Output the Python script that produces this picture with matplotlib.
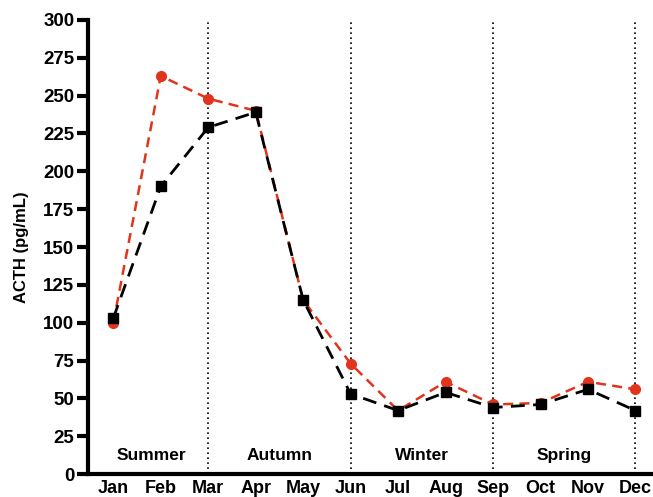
import matplotlib.pyplot as plt

months = ['Jan', 'Feb', 'Mar', 'Apr', 'May', 'Jun', 'Jul', 'Aug', 'Sep', 'Oct', 'Nov', 'Dec']
acth_red = [100, 263, 248, 240, 115, 73, 42, 61, 46, 47, 61, 56]
acth_black = [103, 190, 229, 239, 115, 53, 42, 54, 44, 46, 56, 42]
seasons = ['Summer', 'Autumn', 'Winter', 'Spring']
season_pos = [0.8, 3.5, 6.5, 9.5]
dividers = [2, 5, 8, 11]

plt.rcParams['font.family'] = ['Liberation Sans', 'DejaVu Sans']
plt.rcParams['font.weight'] = 'bold'

fig = plt.figure(figsize=(6.53, 4.97), dpi=100)
ax = fig.add_axes([0.135, 0.046, 0.865, 0.914])

x = list(range(len(months)))
for d in dividers:
    ax.axvline(d, color='black', linestyle=(0, (1, 2)), lw=1.2, zorder=1)

ax.plot(x, acth_red, color='#e2341d', linestyle=(0, (4, 2.5)), lw=1.8,
        marker='o', markersize=7, zorder=2)
ax.plot(x, acth_black, color='black', linestyle=(0, (5, 3)), lw=2,
        marker='s', markersize=7, zorder=3)

for s, p in zip(seasons, season_pos):
    ax.text(p, 12, s, ha='center', va='center', fontsize=12.5, fontweight='bold')

ax.set_xlim(-0.53, 11.37)
ax.set_ylim(0, 300)
ax.set_yticks(range(0, 301, 25))
ax.set_xticks(x)
ax.set_xticklabels(months)
ax.set_ylabel('ACTH (pg/mL)', fontsize=12, fontweight='bold', labelpad=10)

for side in ['top', 'right']:
    ax.spines[side].set_visible(False)
for side in ['left', 'bottom']:
    ax.spines[side].set_linewidth(3)
ax.tick_params(axis='y', width=3, length=8, labelsize=13.5, pad=2)
ax.tick_params(axis='x', length=0, labelsize=13, pad=4)
for lab in ax.get_xticklabels() + ax.get_yticklabels():
    lab.set_fontweight('bold')

fig.savefig('out.png', dpi=100)
